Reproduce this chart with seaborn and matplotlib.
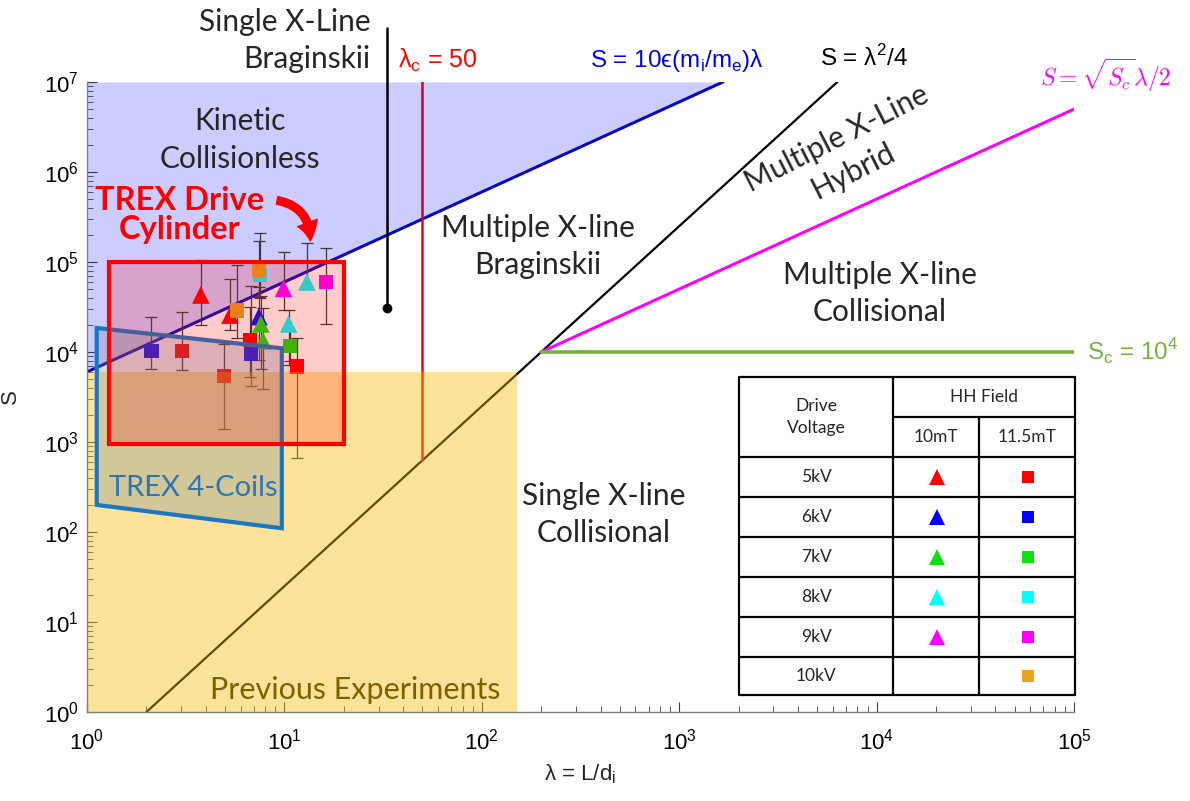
import numpy as np
import pandas as pd
import matplotlib
matplotlib.use("Agg")
import matplotlib.pyplot as plt
import seaborn as sns
from matplotlib.patches import Polygon, Rectangle, FancyArrowPatch

# ---------------------------------------------------------------- data
voltages = ["5kV", "6kV", "7kV", "8kV", "9kV", "10kV"]
voltage_colors = ["#ff0000", "#0000ff", "#10e010", "#00ffff", "#ff00ff", "#e8a323"]

# 10 mT Helmholtz field runs (triangles)
tri_voltage = ["5kV", "5kV", "6kV", "7kV", "7kV", "8kV", "8kV", "9kV"]
tri_lambda = [3.77, 5.3, 7.43, 7.6, 7.8, 10.5, 13.0, 9.9]
tri_S = [4.3e4, 2.57e4, 2.47e4, 2.05e4, 1.33e4, 2.05e4, 6.0e4, 5.1e4]
tri_S_lo = [2.0e4, 1.75e4, 8.1e3, 6.5e3, 3.9e3, 7.2e3, 5.0e4, 2.9e4]
tri_S_hi = [1.05e5, 6.4e4, 5.3e4, 4.2e4, 3.05e4, 2.9e4, 1.64e5, 1.3e5]

# 11.5 mT Helmholtz field runs (squares)
sq_voltage = ["6kV", "5kV", "5kV", "10kV", "5kV", "6kV", "8kV", "10kV", "7kV", "5kV", "9kV"]
sq_lambda = [2.12, 3.02, 4.94, 5.77, 6.72, 6.77, 7.55, 7.43, 10.7, 11.6, 16.2]
sq_S = [1.02e4, 1.03e4, 5.4e3, 2.9e4, 1.36e4, 9.5e3, 7.2e4, 8.1e4, 1.17e4, 6.9e3, 6.0e4]
sq_S_lo = [6.4e3, 6.3e3, 1.38e3, 1.42e4, 5.3e3, 4.2e3, 4.0e4, 4.1e4, 8.0e3, 660, 2.05e4]
sq_S_hi = [2.47e4, 2.78e4, 1.22e4, 9.3e4, 3.2e4, 5.4e4, 2.1e5, 1.7e5, 1.7e4, 1.42e4, 1.43e5]

# regime boundaries
kinetic_coeff = 6000.0          # S = 10 eps (m_i/m_e) lambda
S_top = 1.0e7
S_c = 1.0e4
lambda_c = 50.0
prev_lambda = [1.0, 150.0]
prev_S = [1.0, 6000.0]
cyl_lambda = [1.3, 20.0]
cyl_S = [950.0, 1.0e5]
coils_lambda = [1.12, 9.7, 9.7, 1.12]
coils_S = [1.85e4, 1.1e4, 110.0, 200.0]
pointer_lambda = 33.0
pointer_S = [3.1e4, 4.0e7]

# ---------------------------------------------------------------- style
sns.set_style("ticks")
plt.rcParams["font.family"] = ["Liberation Sans", "DejaVu Sans"]
plt.rcParams["mathtext.fontset"] = "dejavusans"
LABEL_FONT = ["Lato", "DejaVu Sans"]

fig = plt.figure(figsize=(11.9, 8.01), dpi=100)
ax = fig.add_axes([87 / 1190, 1 - 712 / 801, (1074 - 87) / 1190, (712 - 82) / 801])
ax.set_xscale("log")
ax.set_yscale("log")
ax.set_xlim(1, 1e5)
ax.set_ylim(1, 1e7)

# ---------------------------------------------------------------- boundary lines
lam = np.logspace(0, 5, 400)

# kinetic boundary and collisionless region
lam_k = lam[kinetic_coeff * lam <= S_top]
lam_k = np.append(lam_k, S_top / kinetic_coeff)
sns.lineplot(x=lam_k, y=kinetic_coeff * lam_k, ax=ax, color="#0b0bb0", lw=2.2, zorder=1)
ax.fill_between(lam_k, kinetic_coeff * lam_k, S_top, color="#0000ff", alpha=0.2, lw=0, zorder=1.5)

# S = lambda^2 / 4
lam_q = lam[(lam ** 2 / 4 >= 1) & (lam ** 2 / 4 <= S_top)]
lam_q = np.concatenate([[2.0], lam_q, [np.sqrt(4 * S_top)]])
sns.lineplot(x=lam_q, y=lam_q ** 2 / 4, ax=ax, color="black", lw=1.6, zorder=1)

# S = sqrt(S_c) lambda / 2 and S = S_c
lam_h = np.logspace(np.log10(2 * np.sqrt(S_c)), 5, 100)
sns.lineplot(x=lam_h, y=np.sqrt(S_c) * lam_h / 2, ax=ax, color="#ff00ff", lw=2.2, zorder=1)
ax.plot([2 * np.sqrt(S_c), 1e5], [S_c, S_c], color="#77b041", lw=2.6, zorder=1)

# lambda_c
ax.plot([lambda_c, lambda_c], [lambda_c ** 2 / 4, S_top], color="#ff0000", lw=1.8, zorder=1)

# pointer for the single X-line Braginskii regime
ax.plot([pointer_lambda, pointer_lambda], pointer_S, color="black", lw=1.8, zorder=4, clip_on=False)
ax.plot([pointer_lambda], [pointer_S[0]], "o", color="black", ms=6, zorder=4)

# ---------------------------------------------------------------- measurements
runs = pd.concat([
    pd.DataFrame({"lambda": tri_lambda, "S": tri_S, "lo": tri_S_lo, "hi": tri_S_hi,
                  "voltage": tri_voltage, "field": "10mT"}),
    pd.DataFrame({"lambda": sq_lambda, "S": sq_S, "lo": sq_S_lo, "hi": sq_S_hi,
                  "voltage": sq_voltage, "field": "11.5mT"}),
], ignore_index=True)

ax.errorbar(runs["lambda"], runs["S"],
            yerr=[runs["S"] - runs["lo"], runs["hi"] - runs["S"]],
            fmt="none", ecolor="#3a3a3a", elinewidth=0.9, capsize=4, capthick=0.9, zorder=2)
palette = dict(zip(voltages, voltage_colors))
sns.scatterplot(data=runs, x="lambda", y="S", hue="voltage", style="field", size="field",
                markers={"10mT": "^", "11.5mT": "s"}, sizes={"10mT": 160, "11.5mT": 105},
                palette=palette, linewidth=0, ax=ax, legend=False, zorder=2.2)

# ---------------------------------------------------------------- shaded regimes (on top)
ax.add_patch(Rectangle((prev_lambda[0], prev_S[0]), prev_lambda[1] - prev_lambda[0],
                       prev_S[1] - prev_S[0], facecolor="#fab903", alpha=0.4, lw=0, zorder=2.5))
ax.add_patch(Polygon(list(zip(coils_lambda, coils_S)), closed=True, facecolor="#6e8999",
                     alpha=0.3, lw=0, zorder=3))
ax.add_patch(Polygon(list(zip(coils_lambda, coils_S)), closed=True, fill=False,
                     edgecolor="#1a78c2", lw=3, zorder=3.2))
ax.add_patch(Rectangle((cyl_lambda[0], cyl_S[0]), cyl_lambda[1] - cyl_lambda[0],
                       cyl_S[1] - cyl_S[0], facecolor="#ff0000", alpha=0.2, lw=0, zorder=3.4))
ax.add_patch(Rectangle((cyl_lambda[0], cyl_S[0]), cyl_lambda[1] - cyl_lambda[0],
                       cyl_S[1] - cyl_S[0], fill=False, edgecolor="#ff0000", lw=3, zorder=3.5))

# ---------------------------------------------------------------- axes cosmetics
for side in ("top", "right"):
    ax.spines[side].set_visible(False)
for side in ("left", "bottom"):
    ax.spines[side].set_color("#808080")
    ax.spines[side].set_linewidth(1.0)
ax.tick_params(which="both", direction="in", colors="#404040", labelcolor="black",
               labelsize=16)
ax.tick_params(axis="x", which="both", pad=12)
ax.tick_params(axis="y", which="both", pad=6)
ax.tick_params(which="major", length=7, width=0.8)
ax.tick_params(which="minor", length=4, width=0.6)
ax.set_xticks([1, 10, 100, 1e3, 1e4, 1e5])
ax.set_yticks([1, 10, 100, 1e3, 1e4, 1e5, 1e6, 1e7])
ax.set_xlabel("λ = L/d$_\\mathregular{i}$", fontsize=16, labelpad=6)
ax.set_ylabel("S", fontsize=16, labelpad=16)

# ---------------------------------------------------------------- region labels
lab = dict(fontsize=21.5, family=LABEL_FONT, ha="center", va="center", linespacing=1.4, zorder=6)
ax.text(5.96, 2.27e6, "Kinetic\nCollisionless", **lab)
ax.text(193, 1.5e5, "Multiple X-line\nBraginskii", **lab)
ax.text(1.04e4, 4.5e4, "Multiple X-line\nCollisional", **lab)
ax.text(416, 155, "Single X-line\nCollisional", **lab)
ax.text(6900, 1.55e6, "Multiple X-Line\nHybrid", rotation=27, rotation_mode="anchor", **lab)
ax.text(2.96, 3.3e5, "TREX Drive\nCylinder", color="#ff0000", fontweight="bold",
        **{**lab, "linespacing": 1.0, "fontsize": 23.5})
ax.text(3.44, 309, "TREX 4-Coils", color="#2e75b6", **{**lab, "fontsize": 21})
ax.text(22.8, 1.75, "Previous Experiments", color="#7f6000", **{**lab, "fontsize": 22})
ax.text(27.2, 2.9e7, "Single X-Line\nBraginskii", fontsize=21.5, family=LABEL_FONT,
        ha="right", va="center", linespacing=1.4, clip_on=False)

arrow = FancyArrowPatch((8.9, 4.9e5), (13.5, 1.6e5), connectionstyle="arc3,rad=-0.45",
                        arrowstyle="simple,head_width=15,head_length=13,tail_width=5.5",
                        color="#ff0000", zorder=6)
ax.add_patch(arrow)

# boundary formula labels
ax.text(37.6, 1.75e7, "λ$_\\mathregular{c}$ = 50", color="#ff0000", fontsize=18,
        ha="left", va="center", clip_on=False)
ax.text(353, 1.75e7, "S = 10ϵ(m$_\\mathregular{i}$/m$_\\mathregular{e}$)λ", color="#0000ff",
        fontsize=17.5, ha="left", va="center", clip_on=False)
ax.text(5170, 1.85e7, "S = λ$^\\mathregular{2}$/4", color="black", fontsize=17.5,
        ha="left", va="center", clip_on=False)
ax.text(6.7e4, 1.2e7, r"$S = \sqrt{S_c}\lambda/2$", color="#ff00ff", fontsize=17,
        ha="left", va="center", math_fontfamily="cm", clip_on=False)
ax.text(1.16e5, S_c, "S$_\\mathregular{c}$ = 10$^\\mathregular{4}$", color="#77b041",
        fontsize=17.5, ha="left", va="center", clip_on=False)

# ---------------------------------------------------------------- run table
tab = fig.add_axes([739 / 1190, 1 - 695 / 801, (1075 - 739) / 1190, (695 - 377) / 801])
tab.set_xlim(739, 1075)
tab.set_ylim(695, 377)
tab.axis("off")
tab.patch.set_visible(False)
col_x = [739, 893, 979, 1075]
row_y = [377, 457, 497, 537, 577, 617, 657, 695]
for y in row_y:
    tab.plot([col_x[0], col_x[-1]], [y, y], color="black", lw=1.6, clip_on=False)
tab.plot([col_x[1], col_x[-1]], [417, 417], color="black", lw=1.6)
for x in (col_x[0], col_x[1], col_x[-1]):
    tab.plot([x, x], [row_y[0], row_y[-1]], color="black", lw=1.6, clip_on=False)
tab.plot([col_x[2], col_x[2]], [417, row_y[-1]], color="black", lw=1.6)

tfont = dict(family=LABEL_FONT, fontsize=12.5, ha="center", va="center")
tab.text(816, 417, "Drive\nVoltage", linespacing=1.5, **tfont)
tab.text(984, 397, "HH Field", **tfont)
tab.text(936, 437, "10mT", **tfont)
tab.text(1027, 437, "11.5mT", **tfont)
for i, (v, c) in enumerate(zip(voltages, voltage_colors)):
    yc = (row_y[i + 1] + row_y[i + 2]) / 2
    tab.text(816, yc, v, **tfont)
    if v in tri_voltage:
        tab.plot(937, yc, "^", color=c, ms=11, mew=0)
    if v in sq_voltage:
        tab.plot(1028, yc, "s", color=c, ms=8, mew=0)

fig.savefig("out.png", dpi=100)
